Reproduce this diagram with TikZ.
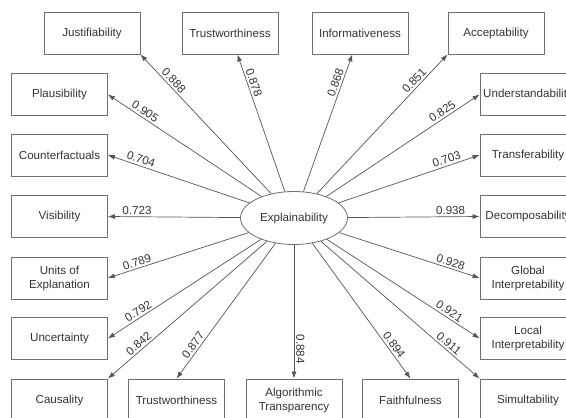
\documentclass[tikz,border=0pt]{standalone}
\usepackage{fontspec}
\setmainfont{Liberation Sans}
\usepackage{tikz}
\usetikzlibrary{arrows.meta,shapes}
\definecolor{linegray}{HTML}{555555}
\definecolor{boxgray}{HTML}{707070}
\definecolor{textgray}{HTML}{333333}
\tikzstyle{factor}=[draw=boxgray,line width=0.8pt,minimum width=96pt,minimum height=42pt,inner sep=2pt,align=center,text=textgray,font=\fontsize{11.6}{14}\selectfont]
\tikzstyle{latent}=[ellipse,draw=boxgray,line width=0.8pt,minimum width=107pt,minimum height=53pt,inner sep=0pt,text=textgray,font=\fontsize{11.6}{14}\selectfont]
\tikzstyle{edge} = [draw=linegray,line width=0.7pt,-{Latex[length=7pt,width=5pt]}]
\tikzstyle{weight}=[pos=0.78,above,sloped,inner sep=2pt,text=textgray,font=\fontsize{11.6}{14}\selectfont]

\begin{document}
\begin{tikzpicture}[x=1pt,y=-1pt]
    \useasboundingbox (0,0) rectangle (566,418);
    \clip (0,0) rectangle (566,418);
    % First we draw the construct in the middle
    \node[latent] (xai) at (294,218) {Explainability};
    % Then the indicator boxes round it
    \foreach \pos/\name/\text in {{(92,33)/just/Justifiability}, {(230,33)/trusta/Trustworthiness}, {(360,33)/info/Informativeness}, {(496,33)/accept/Acceptability},
        {(59.5,94.5)/plaus/Plausibility}, {(59.5,155)/counter/Counterfactuals}, {(59.5,216.5)/visib/Visibility}, {(59.5,278)/units/{Units of\\Explanation}}, {(59.5,338.5)/uncert/Uncertainty}, {(59.5,400)/causal/Causality},
        {(528,94.5)/under/Understandability}, {(528,155)/transf/Transferability}, {(528,216.5)/decomp/Decomposability}, {(528,278)/global/{Global\\Interpretability}}, {(528,338.5)/local/{Local\\Interpretability}}, {(528,400)/simul/Simultability},
        {(176.5,400)/trustb/Trustworthiness}, {(294,400)/algo/{Algorithmic\\Transparency}}, {(410.5,400)/faith/Faithfulness}}
        \node[factor] (\name) at \pos {\text};
    % Connect the construct with its indicators
    \foreach \dest/\val in {just.south east/0.888, trusta/0.878, info/0.868, accept.south west/0.851,
        plaus.east/0.905, counter.east/0.704, visib.east/0.723, units.east/0.789, uncert.east/0.792, causal.north east/0.842,
        under.west/0.825, transf.west/0.703, decomp.west/0.938, global.west/0.928, local.west/0.921, simul.north west/0.911,
        trustb.north/0.877, algo.north/0.884, faith.north/0.894}
        \path[edge] (xai) -- (\dest) node[weight] {\val};
\end{tikzpicture}
\end{document}
